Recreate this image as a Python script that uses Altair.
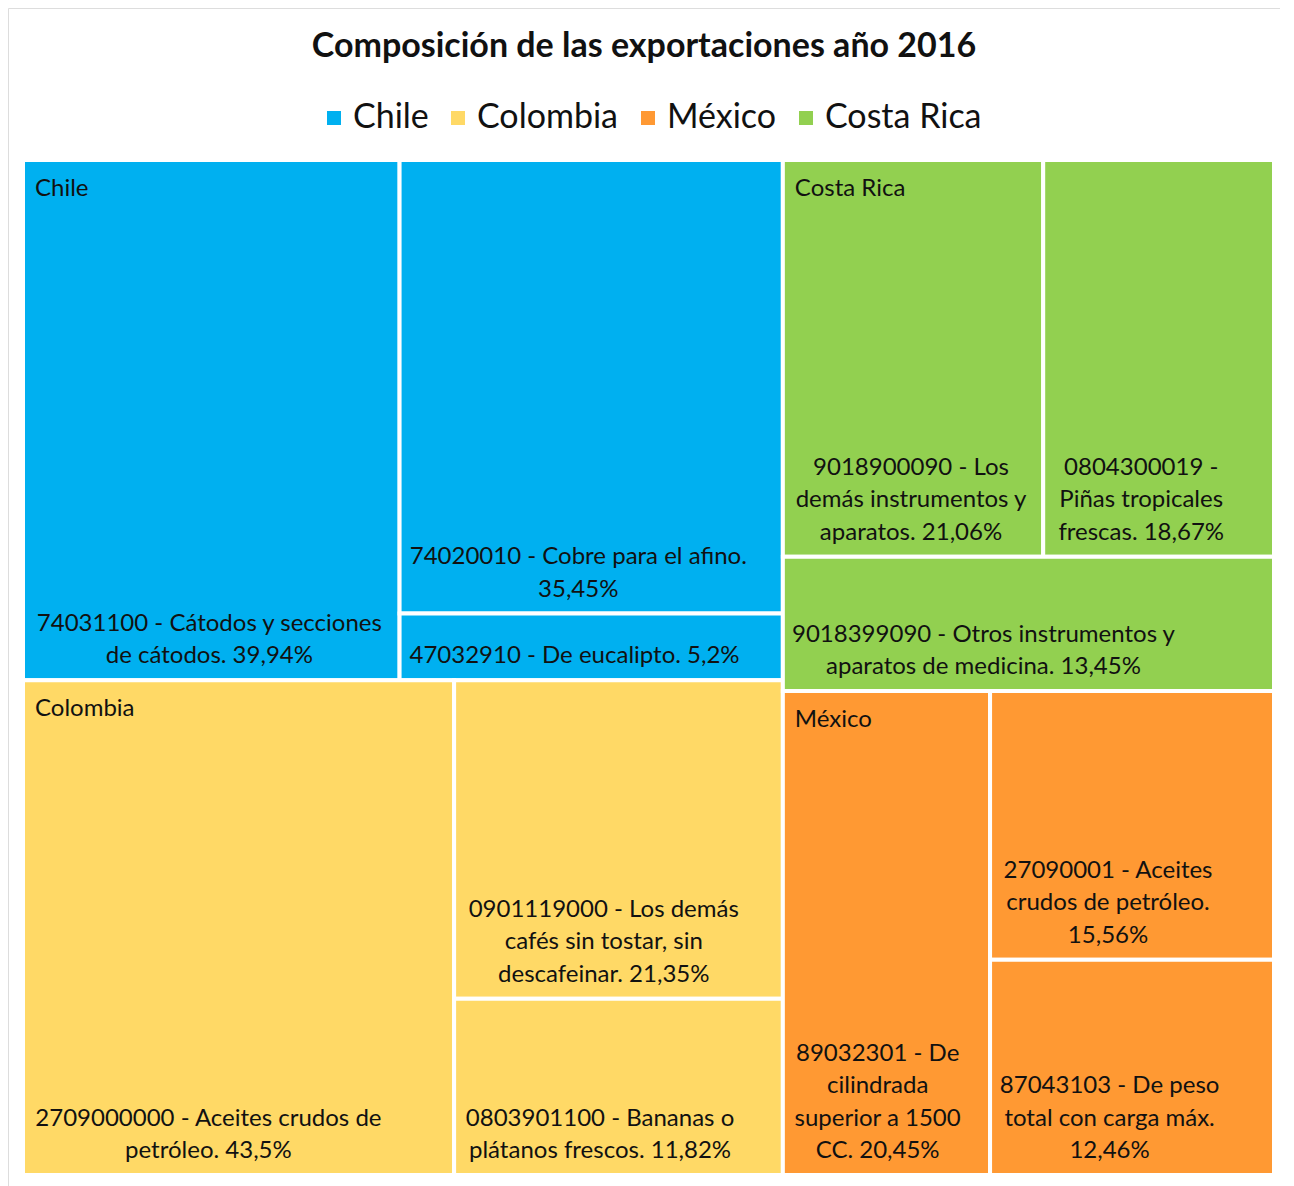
import altair as alt
import pandas as pd

# ---------------- data ----------------
countries = ["Chile", "Colombia", "México", "Costa Rica"]          # legend order
colors = ["#00B0F0", "#FFD966", "#FF9933", "#92D050"]

chile_values = [39.94, 35.45, 5.2]
chile_labels = ["74031100 - Cátodos y secciones\nde cátodos. {p}%",
                "74020010 - Cobre para el afino.\n{p}%",
                "47032910 - De eucalipto. {p}%"]

colombia_values = [43.5, 21.35, 11.82]
colombia_labels = ["2709000000 - Aceites crudos de\npetróleo. {p}%",
                   "0901119000 - Los demás\ncafés sin tostar, sin\ndescafeinar. {p}%",
                   "0803901100 - Bananas o\nplátanos frescos. {p}%"]

costarica_values = [21.06, 18.67, 13.45]
costarica_labels = ["9018900090 - Los\ndemás instrumentos y\naparatos. {p}%",
                    "0804300019 -\nPiñas tropicales\nfrescas. {p}%",
                    "9018399090 - Otros instrumentos y\naparatos de medicina. {p}%"]

mexico_values = [20.45, 15.56, 12.46]
mexico_labels = ["89032301 - De\ncilindrada\nsuperior a 1500\nCC. {p}%",
                 "27090001 - Aceites\ncrudos de petróleo.\n{p}%",
                 "87043103 - De peso\ntotal con carga máx.\n{p}%"]

groups = {
    "Chile": (chile_values, chile_labels),
    "Colombia": (colombia_values, colombia_labels),
    "Costa Rica": (costarica_values, costarica_labels),
    "México": (mexico_values, mexico_labels),
}

# split structure of the treemap (h = side by side, v = stacked)
top_layout = ("h", [("v", ["Chile", "Colombia"]), ("v", ["Costa Rica", "México"])])
group_layout = {
    "Chile": ("h", [0, ("v", [1, 2])]),
    "Colombia": ("h", [0, ("v", [1, 2])]),
    "Costa Rica": ("v", [("h", [0, 1]), 2]),
    "México": ("h", [0, ("v", [1, 2])]),
}

# ---------------- layout (normalized 0..1) ----------------
def weight(node, vals):
    if isinstance(node, tuple):
        return sum(weight(c, vals) for c in node[1])
    return vals(node)

def split(node, box, vals, out):
    x0, y0, x1, y1 = box
    if not isinstance(node, tuple):
        out[node] = box
        return
    d, kids = node
    tot = sum(weight(k, vals) for k in kids)
    pos = x0 if d == "h" else y0
    for k in kids:
        f = weight(k, vals) / tot
        if d == "h":
            nxt = pos + f * (x1 - x0)
            split(k, (pos, y0, nxt, y1), vals, out)
        else:
            nxt = pos + f * (y1 - y0)
            split(k, (x0, pos, x1, nxt), vals, out)
        pos = nxt

group_boxes = {}
split(top_layout, (0, 0, 1, 1), lambda g: sum(groups[g][0]), group_boxes)

# drawing constants (pixels)
VIEW_W, VIEW_H = 1272, 1190
PX0, PX1, PY0, PY1 = 15, 1266, 152, 1167
PLOT_W = PX1 - PX0
PLOT_H = PY1 - PY0
FS = 24
LH = 32.5
PAD = 12

def text_width(s):
    # rough advance widths (em) for the label font
    w = 0.0
    for ch in s:
        if ch.isdigit():
            w += 0.58
        elif ch == " ":
            w += 0.25
        elif ch in ".,":
            w += 0.23
        elif ch == "-":
            w += 0.33
        elif ch == "%":
            w += 0.75
        elif ch in "ilíjtfr":
            w += 0.32
        elif ch in "mw":
            w += 0.83
        elif ch.isupper():
            w += 0.64
        else:
            w += 0.52
    return w * FS

rows = []
for g, (vals, labs) in groups.items():
    leaf_boxes = {}
    split(group_layout[g], group_boxes[g], lambda i: vals[i], leaf_boxes)
    for i, v in enumerate(vals):
        bx0, by0, bx1, by1 = leaf_boxes[i]
        txt = labs[i].format(p=str(v).replace(".", ","))
        lines = txt.split("\n")
        cell_w = (bx1 - bx0) * PLOT_W
        bw = min(max(text_width(s) for s in lines), cell_w - 2 * PAD)
        rows.append(dict(country=g, value=v, label=txt, first=(i == 0),
                         x0=bx0, x1=bx1, y0=by0, y1=by1,
                         lx=bx0 + (PAD + bw / 2) / PLOT_W,
                         ly=by1 - (len(lines) - 1) * LH / PLOT_H))
df = pd.DataFrame(rows)

xs = alt.Scale(domain=[0, 1], range=[PX0, PX1])
ys = alt.Scale(domain=[0, 1], range=[PY0, PY1])

base = alt.Chart(df)

rects = base.mark_rect(stroke="white", strokeWidth=4).encode(
    x=alt.X("x0:Q", scale=xs, axis=None),
    x2="x1:Q",
    y=alt.Y("y0:Q", scale=ys, axis=None),
    y2="y1:Q",
    color=alt.Color("country:N",
                    scale=alt.Scale(domain=countries, range=colors),
                    legend=alt.Legend(title=None, orient="none", direction="horizontal",
                                      legendX=309, legendY=93,
                                      symbolType="square", symbolSize=196,
                                      symbolStrokeWidth=0, symbolOpacity=1,
                                      labelFont="Lato", labelFontSize=34,
                                      labelColor="#111", labelOffset=2,
                                      columnPadding=12, labelLimit=400)),
)

leaf_text = base.mark_text(font="Lato", fontSize=FS, lineHeight=LH, lineBreak="\n",
                           align="center", baseline="bottom", dy=-12, color="#111").encode(
    x=alt.X("lx:Q", scale=xs),
    y=alt.Y("ly:Q", scale=ys),
    text="label:N",
)

group_text = base.transform_filter("datum.first").mark_text(
    font="Lato", fontSize=FS, align="left", baseline="alphabetic",
    dx=12, dy=36, color="#111").encode(
    x=alt.X("x0:Q", scale=xs),
    y=alt.Y("y0:Q", scale=ys),
    text="country:N",
)

chart = alt.layer(rects, leaf_text, group_text).properties(
    width=VIEW_W, height=VIEW_H,
    title=alt.Title("Composición de las exportaciones año 2016", font="Lato",
                    fontSize=34, fontWeight="bold", color="#111",
                    anchor="middle", offset=-56),
    autosize=alt.AutoSizeParams(type="none"),
    padding=0,
).configure_view(stroke="#d9d9d9", strokeWidth=1).configure(background="white")

chart.save("out.html", embed_options={"renderer": "svg", "actions": False})
